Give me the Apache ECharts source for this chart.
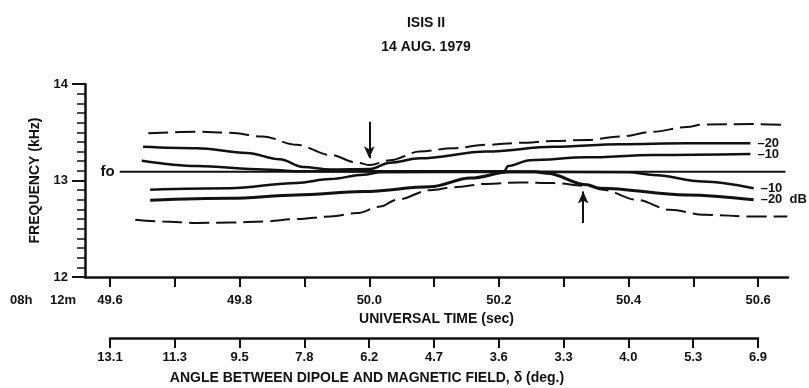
<!DOCTYPE html>
<html><head><meta charset="utf-8">
<script src="https://cdn.jsdelivr.net/npm/echarts@6/dist/echarts.min.js"></script>
<style>html,body{margin:0;padding:0;background:#fff}#c{width:809px;height:388px}</style>
</head><body><div id="c"></div>
<script>
// ---- data ----
const timeTicks = [49.6, 49.7, 49.8, 49.9, 50.0, 50.1, 50.2, 50.3, 50.4, 50.5, 50.6];
const timeLabels = [49.6, 49.8, 50.0, 50.2, 50.4, 50.6];
const angleLabels = ['13.1', '11.3', '9.5', '7.8', '6.2', '4.7', '3.6', '3.3', '4.0', '5.3', '6.9'];

const foT = [49.615, 50.642];
const foF = [13.09, 13.09];

const upperDashT = [49.659, 49.734, 49.785, 49.836, 49.888, 49.940, 49.981, 50.001, 50.032, 50.078, 50.129, 50.181, 50.233, 50.284, 50.336, 50.387, 50.438, 50.490, 50.515, 50.592, 50.644];
const upperDashF = [13.49, 13.505, 13.495, 13.455, 13.37, 13.265, 13.185, 13.16, 13.21, 13.30, 13.335, 13.37, 13.39, 13.41, 13.42, 13.455, 13.505, 13.555, 13.58, 13.585, 13.575];

const upper20T = [49.651, 49.734, 49.811, 49.862, 49.898, 49.940, 50.001, 50.032, 50.078, 50.181, 50.284, 50.387, 50.490, 50.588];
const upper20F = [13.35, 13.335, 13.285, 13.22, 13.14, 13.115, 13.12, 13.185, 13.23, 13.30, 13.35, 13.375, 13.385, 13.385];

const upper10T = [49.649, 49.734, 49.837, 49.890, 50.100, 50.208, 50.214, 50.248, 50.336, 50.438, 50.588];
const upper10F = [13.205, 13.15, 13.115, 13.095, 13.095, 13.095, 13.15, 13.21, 13.24, 13.265, 13.275];

const lower10T = [49.662, 49.785, 49.888, 49.940, 49.991, 50.017, 50.200, 50.400, 50.438, 50.515, 50.593];
const lower10F = [12.905, 12.92, 12.975, 13.015, 13.06, 13.085, 13.09, 13.085, 13.058, 12.99, 12.92];

const lower20T = [49.662, 49.785, 49.888, 49.991, 50.094, 50.156, 50.217, 50.255, 50.274, 50.336, 50.356, 50.490, 50.593];
const lower20F = [12.795, 12.815, 12.85, 12.885, 12.935, 13.025, 13.09, 13.09, 13.075, 12.955, 12.92, 12.85, 12.80];

const lowerDashT = [49.639, 49.682, 49.734, 49.785, 49.837, 49.888, 49.940, 49.981, 50.017, 50.042, 50.094, 50.130, 50.181, 50.233, 50.284, 50.336, 50.361, 50.413, 50.464, 50.516, 50.593, 50.645];
const lowerDashF = [12.593, 12.575, 12.56, 12.565, 12.575, 12.60, 12.627, 12.662, 12.73, 12.80, 12.90, 12.93, 12.965, 12.98, 12.973, 12.945, 12.903, 12.80, 12.696, 12.645, 12.627, 12.627];

const arrowDown = { t: 50.0, from: 13.61, to: 13.23 };
const arrowUp = { t: 50.33, from: 12.56, to: 12.885 };

// ---- chart ----
const FONT = 'Liberation Sans, Arial, Helvetica, sans-serif';
const INK = '#111';
const zip = (t, f) => t.map((v, i) => [v, f[i]]);
const lbl = { color: INK, fontFamily: FONT, fontWeight: 'bold', fontSize: 13 };

function curve(name, t, f, opts) {
  const s = {
    name: name, type: 'line', xAxisIndex: 0, yAxisIndex: 0,
    data: zip(t, f), showSymbol: false, symbol: 'none',
    smooth: 0.35, smoothMonotone: 'x',
    lineStyle: { color: INK, width: opts.width || 2.5, type: opts.dash ? [20, 7] : 'solid' },
    silent: true, animation: false
  };
  if (opts.label) {
    s.endLabel = Object.assign({ show: true, formatter: opts.label, distance: 7 }, lbl);
  }
  return s;
}

const foData = zip(foT, foF);
foData[0] = { value: foData[0], label: Object.assign({ show: true, position: 'left', formatter: 'fo', distance: 5 }, lbl, { fontSize: 15 }) };

const series = [
  {
    name: 'fo', type: 'line', data: foData, symbol: 'circle', symbolSize: 0.1, showSymbol: true,
    lineStyle: { color: INK, width: 2 }, itemStyle: { color: INK }, silent: true,
    markLine: {
      silent: true, symbolSize: [8, 12], precision: 3,
      lineStyle: { color: INK, width: 2, type: 'solid' }, label: { show: false },
      data: [
        [{ coord: [arrowDown.t, arrowDown.from], symbol: 'none' }, { coord: [arrowDown.t, arrowDown.to], symbol: 'arrow' }],
        [{ coord: [arrowUp.t, arrowUp.from], symbol: 'none' }, { coord: [arrowUp.t, arrowUp.to], symbol: 'arrow' }]
      ]
    }
  },
  curve('upperDash', upperDashT, upperDashF, { dash: true, width: 2 }),
  curve('-20 upper', upper20T, upper20F, { width: 2.5, label: '–20' }),
  curve('-10 upper', upper10T, upper10F, { width: 2.5, label: '–10' }),
  curve('-10 lower', lower10T, lower10F, { width: 2.5, label: '–10' }),
  curve('-20 lower', lower20T, lower20F, { width: 3, label: '–20  dB' }),
  curve('lowerDash', lowerDashT, lowerDashF, { dash: true, width: 2 })
];

const chart = echarts.init(document.getElementById('c'), null, { renderer: 'canvas' });
chart.setOption({
  animation: false,
  backgroundColor: '#fff',
  title: {
    text: 'ISIS II', subtext: '14 AUG. 1979', left: 421, top: 11, textAlign: 'center', itemGap: 10,
    textStyle: Object.assign({}, lbl, { fontSize: 14 }),
    subtextStyle: Object.assign({}, lbl, { fontSize: 14 })
  },
  grid: [
    { left: 85, right: 21, top: 84, bottom: 111 },
    { left: 110, width: 648, top: 300, height: 38 }
  ],
  xAxis: [
    {
      type: 'value', gridIndex: 0, min: 49.5614, max: 50.646,
      name: 'UNIVERSAL TIME (sec)', nameLocation: 'middle', nameGap: 35,
      nameTextStyle: Object.assign({}, lbl, { fontSize: 14 }),
      axisLine: { show: true, lineStyle: { color: INK, width: 2.5 } },
      axisTick: { show: true, length: 10, lineStyle: { color: INK, width: 2 }, customValues: timeTicks },
      axisLabel: Object.assign({ margin: 17, customValues: timeLabels, formatter: v => Number(v).toFixed(1) }, lbl),
      splitLine: { show: false }
    },
    {
      type: 'category', gridIndex: 1, data: angleLabels, boundaryGap: false, position: 'bottom',
      name: 'ANGLE BETWEEN DIPOLE AND MAGNETIC FIELD, δ (deg.)', nameLocation: 'middle', nameGap: 33,
      nameTextStyle: Object.assign({}, lbl, { fontSize: 14, padding: [0, 134, 0, 0] }),
      axisLine: { show: true, lineStyle: { color: INK, width: 2.5 } },
      axisTick: { show: true, length: 10, alignWithLabel: true, interval: 0, lineStyle: { color: INK, width: 2 } },
      axisLabel: Object.assign({ margin: 13, interval: 0 }, lbl),
      splitLine: { show: false }
    }
  ],
  yAxis: [
    {
      type: 'value', gridIndex: 0, min: 12, max: 14, interval: 1,
      name: 'FREQUENCY (kHz)', nameLocation: 'middle', nameGap: 31,
      nameTextStyle: Object.assign({}, lbl, { fontSize: 14 }),
      axisLine: { show: true, lineStyle: { color: INK, width: 2.5 } },
      axisTick: { show: true, length: 13, lineStyle: { color: INK, width: 2 } },
      minorTick: { show: true, splitNumber: 10, length: 8, lineStyle: { color: INK, width: 1.5 } },
      axisLabel: Object.assign({ margin: 17 }, lbl),
      splitLine: { show: false }, minorSplitLine: { show: false }
    },
    { type: 'value', gridIndex: 1, show: false }
  ],
  graphic: [
    { type: 'text', left: 10, top: 294, style: { text: '08h', fill: INK, font: 'bold 13px ' + FONT } },
    { type: 'text', left: 50, top: 294, style: { text: '12m', fill: INK, font: 'bold 13px ' + FONT } }
  ],
  series: series
});
</script>
</body></html>
